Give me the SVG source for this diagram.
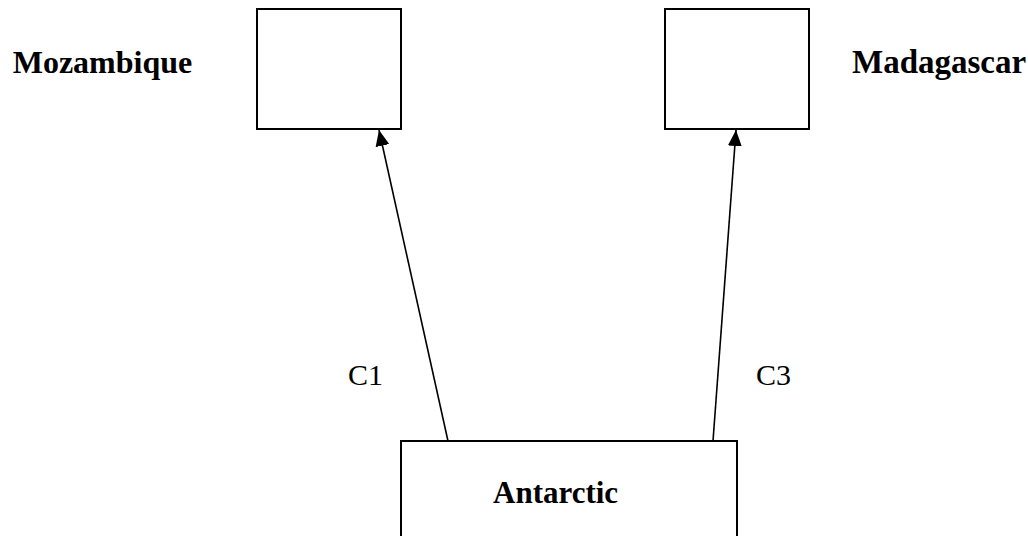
<svg xmlns="http://www.w3.org/2000/svg" width="1028" height="536" viewBox="0 0 1028 536">
<style>
.box{fill:#fff;stroke:#000;stroke-width:2}
.lbl{font-family:"Liberation Serif","Times New Roman",serif;font-weight:bold;fill:#000}
.elbl{font-family:"Liberation Serif","Times New Roman",serif;fill:#000;font-size:30px}
.conn{stroke:#000;stroke-width:1.6;fill:none}
</style>
<defs>
<marker id="ah" markerUnits="userSpaceOnUse" markerWidth="16" markerHeight="14" viewBox="0 0 16 14" refX="16" refY="7" orient="auto">
<path d="M0,0 L16,7 L0,14 Z" fill="#000"/>
</marker>
</defs>
<rect width="1028" height="536" fill="#fff"/>
<g id="mozambique">
<rect class="box" x="257" y="9" width="144" height="120"/>
<text class="lbl" x="12.7" y="73" font-size="32">Mozambique</text>
</g>
<g id="madagascar">
<rect class="box" x="665" y="9" width="144" height="120"/>
<text class="lbl" x="852" y="73" font-size="33">Madagascar</text>
</g>
<g id="antarctic">
<rect class="box" x="401" y="441" width="336" height="130"/>
<text class="lbl" x="493" y="503" font-size="31">Antarctic</text>
</g>
<g id="connectors">
<line class="conn" x1="448" y1="441" x2="379" y2="130" marker-end="url(#ah)"/>
<line class="conn" x1="713" y1="441" x2="736" y2="130" marker-end="url(#ah)"/>
<text class="elbl" x="348" y="385">C1</text>
<text class="elbl" x="756" y="385">C3</text>
</g>
</svg>
